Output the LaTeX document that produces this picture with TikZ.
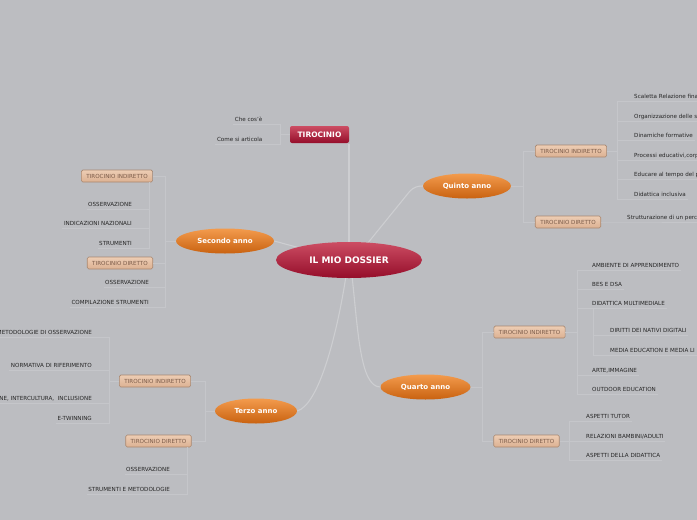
\documentclass[tikz,border=0pt]{standalone}
\usepackage{fontspec}
\setmainfont{DejaVu Sans}
\usetikzlibrary{shapes.geometric}
\definecolor{bgc}{HTML}{BCBDC1}
\definecolor{linec}{HTML}{C5C6CA}
\definecolor{mainline}{HTML}{CDCED1}
\definecolor{crimtop}{HTML}{CC4D63}
\definecolor{crimbot}{HTML}{950D2A}
\definecolor{orgtop}{HTML}{F39B4D}
\definecolor{orgbot}{HTML}{C96210}
\definecolor{tantop}{HTML}{EDCDB4}
\definecolor{tanbot}{HTML}{DCB192}
\definecolor{tanedge}{HTML}{A88770}
\definecolor{tantext}{HTML}{7A5A48}
\definecolor{leafc}{HTML}{262626}
\newcommand\leaffont{\fontsize{5.6}{6.5}\selectfont}
\begin{document}
\begin{tikzpicture}[x=1pt,y=-1pt,
  conn/.style={draw=linec,line width=0.6pt},
  mconn/.style={draw=mainline,line width=1.1pt},
  ctr/.style={ellipse,top color=crimtop,bottom color=crimbot,draw=none,text=white,
    font=\fontsize{9}{10}\selectfont\bfseries,minimum width=146pt,minimum height=36pt,inner sep=0pt},
  redbox/.style={rectangle,rounded corners=2pt,top color=crimtop,bottom color=crimbot,draw=none,
    text=white,font=\fontsize{7.5}{8.5}\selectfont\bfseries,minimum width=59pt,minimum height=17pt,inner sep=0pt},
  yr/.style={ellipse,top color=orgtop,bottom color=orgbot,draw=none,text=white,
    font=\fontsize{7}{8}\selectfont\bfseries,minimum height=25pt,inner sep=0pt},
  tan/.style={rectangle,rounded corners=1.5pt,top color=tantop,bottom color=tanbot,draw=tanedge,
    line width=0.6pt,text=tantext,font=\leaffont,minimum height=12pt,inner xsep=5pt,inner ysep=0pt},
  leafL/.style={font=\leaffont,text=leafc,anchor=south east,inner xsep=1.5pt,inner ysep=1.5pt,
    text height=4.2pt,text depth=1.2pt},
  leafR/.style={font=\leaffont,text=leafc,anchor=south west,inner xsep=1.5pt,inner ysep=1.5pt,
    text height=4.2pt,text depth=1.2pt}]
\fill[bgc] (0,0) rectangle (697,520);
\useasboundingbox (0,0) rectangle (697,520);

% ---------- main nodes ----------
\node[redbox] (tir) at (319.5,134.5) {TIROCINIO};
\node[yr,minimum width=98pt] (sec) at (225,241) {Secondo anno};
\node[yr,minimum width=88pt] (qui) at (467,186) {Quinto anno};
\node[yr,minimum width=90pt] (qua) at (425.5,387) {Quarto anno};
\node[yr,minimum width=82pt] (ter) at (256,411) {Terzo anno};

% ---------- central connectors ----------
\draw[mconn] (349,243) -- (349,143.5);
\draw[mconn] (367,244) -- (410,191) .. controls (414,187) and (418,186) .. (qui.west);
\draw[mconn] (300,248) -- (sec.east);
\draw[mconn] (352,276) .. controls (358,330) and (360,387) .. (qua.west);
\draw[mconn] (346,276) .. controls (336,340) and (318,405) .. (ter.east);

\node[ctr] (center) at (349,260) {IL MIO DOSSIER};

% ---------- tan boxes ----------
\node[tan] (si) at (117,176) {TIROCINIO INDIRETTO};
\node[tan] (sd) at (120,263) {TIROCINIO DIRETTO};
\node[tan] (ti) at (155,381) {TIROCINIO INDIRETTO};
\node[tan] (td) at (158.5,441) {TIROCINIO DIRETTO};
\node[tan] (q5i) at (571,151) {TIROCINIO INDIRETTO};
\node[tan] (q5d) at (568,222) {TIROCINIO DIRETTO};
\node[tan] (q4i) at (529.5,332) {TIROCINIO INDIRETTO};
\node[tan] (q4d) at (526.5,441) {TIROCINIO DIRETTO};

% ---------- TIROCINIO leaves ----------
\node[leafL] (t1) at (264,124.5) {Che cos'è};
\node[leafL] (t2) at (264,144) {Come si articola};
\coordinate (bT) at (280,134.5);
\draw[conn] (tir.west) -- (bT);
\draw[conn] (bT) |- (t1.south west);
\draw[conn] (bT) |- (t2.south west);

% ---------- Secondo anno ----------
\coordinate (bS) at (165,241);
\draw[conn] (sec.west) -- (bS);
\draw[conn] (bS) |- (si.east);
\draw[conn] (bS) |- (sd.east);
\node[leafL] (s1) at (133.5,209.5) {OSSERVAZIONE};
\node[leafL] (s2) at (133.5,228.5) {INDICAZIONI NAZIONALI};
\node[leafL] (s3) at (133.5,248.5) {STRUMENTI};
\coordinate (bSi) at (149,182);
\draw[conn] (bSi) |- (s1.south west);
\draw[conn] (bSi) |- (s2.south west);
\draw[conn] (bSi) |- (s3.south west);
\node[leafL] (s4) at (150.5,287.5) {OSSERVAZIONE};
\node[leafL] (s5) at (150.5,307.5) {COMPILAZIONE STRUMENTI};
\coordinate (bSd) at (165,263);
\draw[conn] (bSd) |- (s4.south west);
\draw[conn] (bSd) |- (s5.south west);

% ---------- Terzo anno ----------
\coordinate (bTe) at (205,411);
\draw[conn] (ter.west) -- (bTe);
\draw[conn] (bTe) |- (ti.east);
\draw[conn] (bTe) |- (td.east);
\node[leafL] (e1) at (93.5,337.5) {METODOLOGIE DI OSSERVAZIONE};
\node[leafL] (e2) at (93.5,370.5) {NORMATIVA DI RIFERIMENTO};
\node[leafL] (e3) at (93.5,403.5) {INTEGRAZIONE, INTERCULTURA,\ \ INCLUSIONE};
\node[leafL] (e4) at (93.5,423.5) {E-TWINNING};
\coordinate (bTi) at (109,381);
\draw[conn] (ti.west) -- (bTi);
\draw[conn] (bTi) |- (e1.south west);
\draw[conn] (bTi) |- (e2.south west);
\draw[conn] (bTi) |- (e3.south west);
\draw[conn] (bTi) |- (e4.south west);
\node[leafL] (e5) at (171.5,474.5) {OSSERVAZIONE};
\node[leafL] (e6) at (171.5,494.5) {STRUMENTI E METODOLOGIE};
\coordinate (bTd) at (187,447);
\draw[conn] (bTd) |- (e5.south west);
\draw[conn] (bTd) |- (e6.south west);

% ---------- Quinto anno ----------
\coordinate (bQ) at (523,186);
\draw[conn] (qui.east) -- (bQ);
\draw[conn] (bQ) |- (q5i.west);
\draw[conn] (bQ) |- (q5d.west);
\node[leafR] (f1) at (632.5,101.5) {Scaletta Relazione fina};
\node[leafR] (f2) at (632.5,121.5) {Organizzazione delle si};
\node[leafR] (f3) at (632.5,140.5) {Dinamiche formative};
\node[leafR] (f4) at (632.5,160.5) {Processi educativi,corp};
\node[leafR] (f5) at (632.5,179.5) {Educare al tempo del p};
\node[leafR] (f6) at (632.5,199.5) {Didattica inclusiva};
\coordinate (bQi) at (617,151);
\draw[conn] (q5i.east) -- (bQi);
\foreach \n in {f1,f2,f3,f4,f5,f6} \draw[conn] (bQi) |- (\n.south east);
\node[leafR] (f7) at (625.5,222) {Strutturazione di un perc};
\draw[conn] (q5d.east) -- (f7.south west) -- (f7.south east);

% ---------- Quarto anno ----------
\coordinate (bR) at (482,387);
\draw[conn] (qua.east) -- (bR);
\draw[conn] (bR) |- (q4i.west);
\draw[conn] (bR) |- (q4d.west);
\node[leafR] (r1) at (590.5,270.5) {AMBIENTE DI APPRENDIMENTO};
\node[leafR] (r2) at (590.5,289.5) {BES E DSA};
\node[leafR] (r3) at (590.5,308.5) {DIDATTICA MULTIMEDIALE};
\node[leafR] (r4) at (590.5,375.5) {ARTE,IMMAGINE};
\node[leafR] (r5) at (590.5,394.5) {OUTDOOR EDUCATION};
\coordinate (bRi) at (577,332);
\draw[conn] (q4i.east) -- (bRi);
\foreach \n in {r1,r2,r3,r4,r5} \draw[conn] (bRi) |- (\n.south east);
\node[leafR] (r6) at (608.5,335.5) {DIRITTI DEI NATIVI DIGITALI};
\node[leafR] (r7) at (608.5,355.5) {MEDIA EDUCATION E MEDIA LI};
\coordinate (bDM) at ([xshift=2.5pt]r3.south west);
\draw[conn] (bDM) |- (r6.south east);
\draw[conn] (bDM) |- (r7.south east);
\node[leafR] (r8) at (584.5,421.5) {ASPETTI TUTOR};
\node[leafR] (r9) at (584.5,441.5) {RELAZIONI BAMBINI/ADULTI};
\node[leafR] (r10) at (584.5,460.5) {ASPETTI DELLA DIDATTICA};
\coordinate (bRd) at (569,441);
\draw[conn] (q4d.east) -- (bRd);
\foreach \n in {r8,r9,r10} \draw[conn] (bRd) |- (\n.south east);
\end{tikzpicture}
\end{document}
